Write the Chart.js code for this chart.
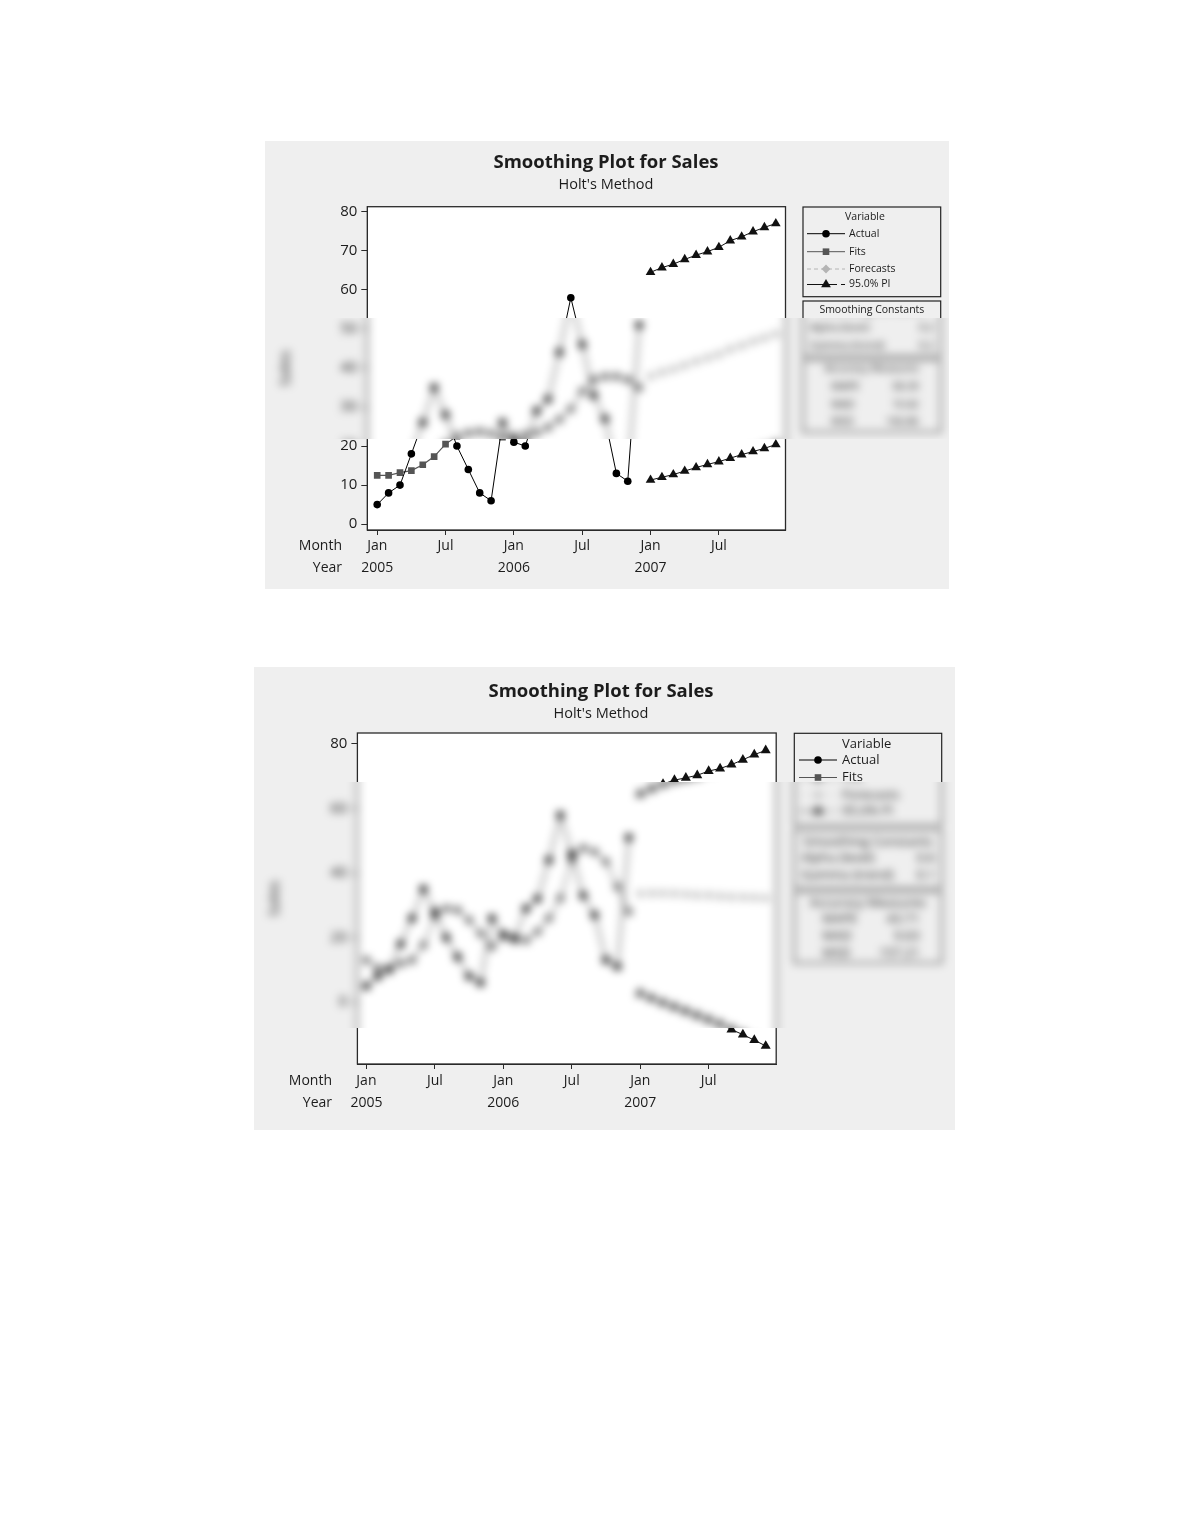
<!DOCTYPE html>
<html>
<head>
<meta charset="utf-8">
<script src="https://cdn.jsdelivr.net/npm/chart.js@4.4.1/dist/chart.umd.min.js"></script>
<style>
html,body{margin:0;padding:0;background:#fff;}
body{position:relative;width:1180px;height:1527px;overflow:hidden;}
.panel{position:absolute;}
#p1{left:265px;top:141px;width:684px;height:448px;}
#p2{left:254px;top:667px;width:701px;height:463px;}
canvas{display:block;}
</style>
</head>
<body>
<div class="panel" id="p1"><canvas id="c1"></canvas></div>
<div class="panel" id="p2"><canvas id="c2"></canvas></div>
<script>
// ---------- DATA ----------
const tickPositions = [0, 6, 12, 18, 24, 30];
const tickMonths = ['Jan', 'Jul', 'Jan', 'Jul', 'Jan', 'Jul'];
const tickYears = ['2005', '', '2006', '', '2007', ''];
const yTicksTop = [0, 10, 20, 30, 40, 50, 60, 70, 80];
const yTicksBottom = [0, 20, 40, 60, 80];

// Monthly sales, Jan 2005 - Dec 2006
const actualSales = [5, 8, 10, 18, 26, 35, 28, 20, 14, 8, 6, 26,
                     21, 20, 29, 32, 44, 58, 46, 33, 27, 13, 11, 51];

// Top chart (Holt's method, first set of constants)
const fitsTop = [12.5, 12.5, 13.2, 13.7, 15.2, 17.3, 20.5, 22.5, 23.3, 23.7, 23.2, 22.3,
                 22.5, 22.8, 23.4, 24.8, 26.8, 29.5, 34.0, 37.0, 37.8, 37.8, 37.0, 35.0];
const forecastsTop = [37.9, 38.9, 39.7, 40.7, 41.7, 42.6, 43.5, 44.8, 45.7, 46.8, 47.7, 48.7];
const upperPITop = [64.5, 65.7, 66.6, 67.8, 68.9, 69.8, 70.9, 72.6, 73.6, 74.9, 76.0, 77.0];
const lowerPITop = [11.3, 12.0, 12.7, 13.6, 14.5, 15.3, 16.0, 16.9, 17.8, 18.6, 19.4, 20.4];

// Bottom chart (Holt's method, second set of constants)
const fitsBottom = [13.0, 10.5, 10.4, 12.0, 13.0, 17.7, 26.5, 29.0, 28.5, 25.4, 21.3, 17.2,
                    20.3, 19.2, 19.2, 21.8, 26.0, 32.2, 44.0, 47.7, 46.6, 43.5, 35.8, 28.0];
const forecastsBottom = [33.6, 33.7, 33.7, 33.6, 33.4, 33.1, 33.1, 32.8, 32.6, 32.5, 32.4, 32.2];
const upperPIBottom = [64.5, 66.2, 67.6, 68.8, 69.5, 70.3, 71.6, 72.4, 73.6, 75.1, 76.7, 78.0];
const lowerPIBottom = [2.7, 1.2, -0.2, -1.5, -2.8, -4.1, -5.4, -6.8, -8.5, -10.1, -11.8, -13.6];

const legendLabels = ['Actual', 'Fits', 'Forecasts', '95.0% PI'];
const constantsTop = [['Alpha (level)', '0.2'], ['Gamma (trend)', '0.2']];
const accuracyTop = [['MAPE', '58.39'], ['MAD', '10.42'], ['MSD', '166.86']];
const constantsBottom = [['Alpha (level)', '0.6'], ['Gamma (trend)', '0.1']];
const accuracyBottom = [['MAPE', '43.71'], ['MAD', '9.63'], ['MSD', '157.21']];

// ---------- RENDERING ----------
const FONT = "'Open Sans', 'DejaVu Sans', sans-serif";
Chart.defaults.font.family = FONT;
const PANEL_BG = '#efefef';
const TEXT = '#1c1c1c';
const COL_ACTUAL = '#000000';
const COL_FITS = '#555555';
const COL_FORE = '#b4b4b4';
const COL_PI = '#111111';

function series(values, start) {
  return values.map((v, i) => ({ x: start + i, y: v }));
}

function marker(ctx, style, x, y, r, color) {
  ctx.save();
  ctx.fillStyle = color;
  ctx.beginPath();
  if (style === 'circle') {
    ctx.arc(x, y, r, 0, Math.PI * 2);
  } else if (style === 'rect') {
    ctx.rect(x - r * 0.72, y - r * 0.72, r * 1.44, r * 1.44);
  } else if (style === 'rectRot') {
    ctx.moveTo(x, y - r); ctx.lineTo(x + r, y); ctx.lineTo(x, y + r); ctx.lineTo(x - r, y); ctx.closePath();
  } else if (style === 'triangle') {
    ctx.moveTo(x, y - r); ctx.lineTo(x + r * 0.87, y + r * 0.5); ctx.lineTo(x - r * 0.87, y + r * 0.5); ctx.closePath();
  }
  ctx.fill();
  ctx.restore();
}

function blurBand(chart, y0, y1, sigma) {
  const c = chart.canvas, ctx = chart.ctx;
  const r = chart.currentDevicePixelRatio || 1;
  const M = 24;
  const W = c.width, H = c.height;
  const sy = Math.max(0, Math.round((y0 - M) * r));
  const ey = Math.min(H, Math.round((y1 + M) * r));
  const tmp = document.createElement('canvas');
  tmp.width = W + 2 * M * r;
  tmp.height = (ey - sy) + 2 * M * r;
  const t = tmp.getContext('2d');
  t.fillStyle = PANEL_BG;
  t.fillRect(0, 0, tmp.width, tmp.height);
  t.drawImage(c, 0, sy, W, ey - sy, M * r, M * r, W, ey - sy);
  ctx.save();
  ctx.setTransform(1, 0, 0, 1, 0, 0);
  ctx.beginPath();
  ctx.rect(0, Math.round(y0 * r), W, Math.round((y1 - y0) * r));
  ctx.clip();
  ctx.filter = 'blur(' + (sigma * r) + 'px)';
  ctx.drawImage(tmp, -M * r, sy - M * r);
  ctx.restore();
}

function makeDecor(spec) {
  return {
    id: 'minitabDecor',
    beforeDraw(chart) {
      const { ctx, chartArea: a, width, height } = chart;
      ctx.save();
      ctx.fillStyle = PANEL_BG;
      ctx.fillRect(0, 0, width, height);
      ctx.fillStyle = '#ffffff';
      ctx.fillRect(a.left, a.top, a.right - a.left, a.bottom - a.top);
      ctx.restore();
    },
    afterDraw(chart) {
      const { ctx, chartArea: a } = chart;
      const L = spec.lay;
      ctx.save();
      // plot frame
      ctx.strokeStyle = '#2a2a2a';
      ctx.lineWidth = 1.3;
      ctx.strokeRect(a.left, a.top, a.right - a.left, a.bottom - a.top);

      // titles
      ctx.fillStyle = TEXT;
      ctx.textAlign = 'center';
      ctx.textBaseline = 'middle';
      ctx.font = 'bold 18.5px ' + FONT;
      ctx.fillText('Smoothing Plot for Sales', L.titleX, L.titleY);
      ctx.font = '14.5px ' + FONT;
      ctx.fillText("Holt's Method", L.titleX, L.subY);

      // axis row labels
      ctx.textAlign = 'right';
      ctx.font = '14px ' + FONT;
      ctx.fillText('Month', L.rowLabelX, L.monthY);
      ctx.fillText('Year', L.rowLabelX, L.yearY);

      // legend box
      const bx = L.boxX, bw = L.boxW;
      const fs = L.legendFont;
      ctx.strokeStyle = '#222';
      ctx.lineWidth = 1.2;
      ctx.strokeRect(bx, L.legTop, bw, L.legBottom - L.legTop);
      ctx.font = fs + 'px ' + FONT;
      ctx.textAlign = 'center';
      ctx.fillText('Variable', L.varX, L.legRows[0]);
      const legendDefs = [
        { style: 'circle', color: COL_ACTUAL, r: L.mk.circle, dash: [] },
        { style: 'rect', color: COL_FITS, r: L.mk.rect, dash: [] },
        { style: 'rectRot', color: COL_FORE, r: L.mk.diamond, dash: [4, 3] },
        { style: 'triangle', color: COL_PI, r: L.mk.tri, dash: [L.lineX1 - L.lineX0 - 8, 4] }
      ];
      legendDefs.forEach((d, i) => {
        const y = L.legRows[i + 1];
        ctx.save();
        ctx.strokeStyle = d.color;
        ctx.lineWidth = 1;
        ctx.setLineDash(d.dash);
        ctx.beginPath();
        ctx.moveTo(L.lineX0, y);
        ctx.lineTo(L.lineX1, y);
        ctx.stroke();
        ctx.restore();
        marker(ctx, d.style, L.markX, y, d.r, d.color);
        ctx.fillStyle = TEXT;
        ctx.textAlign = 'left';
        ctx.fillText(legendLabels[i], L.textX, y);
      });

      // smoothing constants box
      ctx.strokeRect(bx, L.conTop, bw, L.conBottom - L.conTop);
      ctx.textAlign = 'center';
      ctx.fillText('Smoothing Constants', bx + bw / 2, L.conRows[0]);
      spec.constants.forEach((row, i) => {
        ctx.textAlign = 'left';
        ctx.fillText(row[0], bx + 7, L.conRows[i + 1]);
        ctx.textAlign = 'right';
        ctx.fillText(row[1], bx + bw - 7, L.conRows[i + 1]);
      });

      // accuracy measures box
      ctx.strokeRect(bx, L.accTop, bw, L.accBottom - L.accTop);
      ctx.textAlign = 'center';
      ctx.fillText('Accuracy Measures', bx + bw / 2, L.accRows[0]);
      spec.accuracy.forEach((row, i) => {
        ctx.textAlign = 'left';
        ctx.fillText(row[0], bx + 28, L.accRows[i + 1]);
        ctx.textAlign = 'right';
        ctx.fillText(row[1], bx + bw - 22, L.accRows[i + 1]);
      });
      ctx.restore();

      // obscured band
      blurBand(chart, L.bandTop, L.bandBottom, L.blur);
    }
  };
}

function buildChart(id, spec) {
  const L = spec.lay;
  const n = actualSales.length;
  return new Chart(document.getElementById(id), {
    type: 'line',
    data: {
      datasets: [
        { label: 'Actual', data: series(actualSales, 0), borderColor: COL_ACTUAL, backgroundColor: COL_ACTUAL,
          borderWidth: 1, pointStyle: 'circle', pointRadius: L.mk.circle, pointBorderWidth: 0, tension: 0 },
        { label: 'Fits', data: series(spec.fits, 0), borderColor: COL_FITS, backgroundColor: COL_FITS,
          borderWidth: 1.2, pointStyle: 'rect', pointRadius: L.mk.rect * 1.02, pointBorderWidth: 0, tension: 0 },
        { label: 'Forecasts', data: series(spec.forecasts, n), borderColor: COL_FORE, backgroundColor: COL_FORE,
          borderWidth: 2, borderDash: [5, 2], pointStyle: 'rectRot', pointRadius: L.mk.diamond, pointBorderWidth: 0, tension: 0 },
        { label: '95.0% PI', data: series(spec.upper, n), borderColor: COL_PI, backgroundColor: COL_PI,
          borderWidth: 1, pointStyle: 'triangle', pointRadius: L.mk.tri, pointBorderWidth: 0, tension: 0 },
        { label: '95.0% PI lower', data: series(spec.lower, n), borderColor: COL_PI, backgroundColor: COL_PI,
          borderWidth: 1, pointStyle: 'triangle', pointRadius: L.mk.tri, pointBorderWidth: 0, tension: 0 }
      ]
    },
    options: {
      responsive: true,
      maintainAspectRatio: false,
      animation: false,
      events: [],
      layout: { padding: { left: L.padLeft, right: L.padRight, top: L.padTop, bottom: 0 } },
      plugins: { legend: { display: false }, tooltip: { enabled: false }, title: { display: false } },
      scales: {
        x: {
          type: 'linear',
          min: L.xMin, max: L.xMax,
          grid: { display: true, drawOnChartArea: false, drawTicks: true, tickLength: 5, tickColor: '#2a2a2a', tickWidth: 1 },
          border: { display: true, color: '#2a2a2a', width: 1 },
          afterBuildTicks: (s) => { s.ticks = tickPositions.map(v => ({ value: v })); },
          afterFit: (s) => { s.height = L.xAxisH; },
          ticks: {
            autoSkip: false, maxRotation: 0, padding: L.xTickPad, color: TEXT,
            font: { size: 14, lineHeight: 22 / 14 },
            callback: (v) => { const k = tickPositions.indexOf(v); return k < 0 ? '' : [tickMonths[k], tickYears[k]]; }
          }
        },
        y: {
          type: 'linear',
          min: L.yMin, max: L.yMax,
          grid: { display: true, drawOnChartArea: false, drawTicks: true, tickLength: 6, tickColor: '#2a2a2a', tickWidth: 1 },
          border: { display: true, color: '#2a2a2a', width: 1 },
          afterBuildTicks: (s) => { s.ticks = spec.yTicks.map(v => ({ value: v })); },
          afterFit: (s) => { s.width = L.yAxisW; },
          title: { display: true, text: 'Sales', color: TEXT, font: { size: 15 }, padding: 0 },
          ticks: { autoSkip: false, padding: 4, color: TEXT, font: { size: 15 } }
        }
      }
    },
    plugins: [makeDecor(spec)]
  });
}

buildChart('c1', {
  fits: fitsTop, forecasts: forecastsTop, upper: upperPITop, lower: lowerPITop,
  yTicks: yTicksTop, constants: constantsTop, accuracy: accuracyTop,
  lay: {
    padLeft: 12, padRight: 163.5, padTop: 65.7, yAxisW: 90.3, xAxisH: 59, xTickPad: 0,
    xMin: -0.87, xMax: 35.85, yMin: -1.5, yMax: 81.3,
    titleX: 341, titleY: 21.5, subY: 44, rowLabelX: 77, monthY: 405, yearY: 427,
    boxX: 538, boxW: 137.7, legTop: 66, legBottom: 155.7, legendFont: 10.5,
    varX: 600, legRows: [75.7, 92.7, 110.7, 128, 143.5],
    lineX0: 542, lineX1: 580, markX: 561, textX: 584,
    mk: { circle: 3.8, rect: 4.6, diamond: 4.4, tri: 5.6 },
    conTop: 160, conBottom: 215, conRows: [169.5, 187.5, 205],
    accTop: 219, accBottom: 291, accRows: [228.5, 246, 264, 281],
    bandTop: 177, bandBottom: 298, blur: 4
  }
});

buildChart('c2', {
  fits: fitsBottom, forecasts: forecastsBottom, upper: upperPIBottom, lower: lowerPIBottom,
  yTicks: yTicksBottom, constants: constantsBottom, accuracy: accuracyBottom,
  lay: {
    padLeft: 12, padRight: 178.8, padTop: 66, yAxisW: 91.4, xAxisH: 66, xTickPad: 1,
    xMin: -0.79, xMax: 35.92, yMin: -19.2, yMax: 83.4,
    titleX: 347, titleY: 24.5, subY: 47, rowLabelX: 78, monthY: 414, yearY: 436,
    boxX: 540.3, boxW: 147.4, legTop: 66.3, legBottom: 158, legendFont: 13,
    varX: 612.7, legRows: [77, 93, 110.5, 128, 144],
    lineX0: 545, lineX1: 583, markX: 564, textX: 588,
    mk: { circle: 3.8, rect: 4.6, diamond: 4.4, tri: 5.8 },
    conTop: 163, conBottom: 221, conRows: [175, 191, 208],
    accTop: 225, accBottom: 296, accRows: [236, 252, 269, 286],
    bandTop: 115, bandBottom: 361, blur: 4
  }
});
</script>
</body>
</html>
